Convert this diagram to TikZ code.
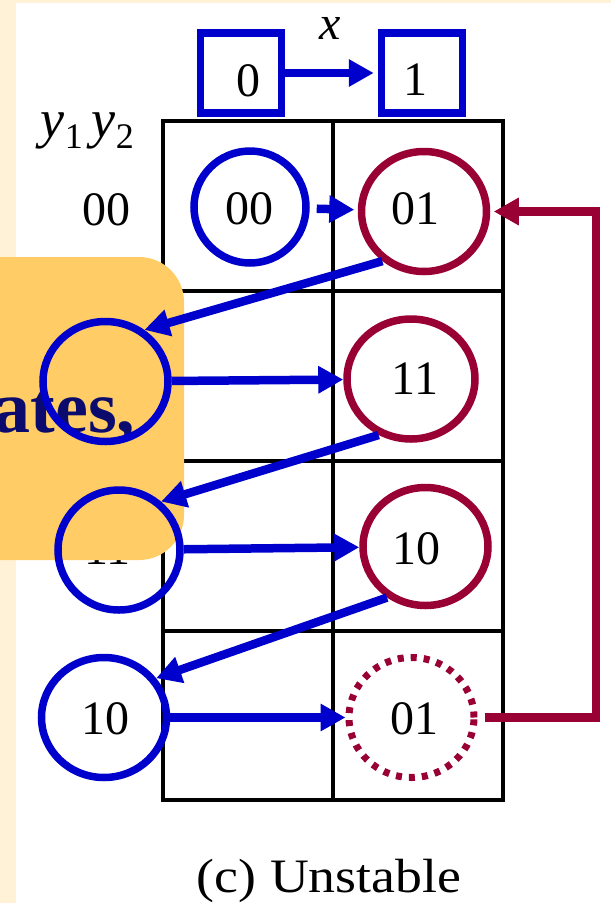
\documentclass[tikz,border=0pt]{standalone}
\usepackage{fontspec}
\setmainfont{Liberation Serif}
\newfontfamily\widefont[FakeStretch=1.12]{Liberation Serif}
\usetikzlibrary{shapes,arrows.meta}

\definecolor{slideblue}{HTML}{0000CC}
\definecolor{slidered}{HTML}{990033}
\definecolor{slidegold}{HTML}{FFCC66}
\definecolor{slidecream}{HTML}{FFF2D6}
\definecolor{slidenavy}{HTML}{0B0B6E}

\newcommand{\sub}[1]{\raisebox{-11pt}{\fontsize{36}{36}\selectfont\upshape #1}}

\tikzset{
  big/.style={font=\fontsize{48}{56}\selectfont},
  redstate/.style={ellipse, draw=slidered, line width=7.5pt, inner sep=0pt,
    minimum width=125pt, minimum height=120pt},
  bluestate/.style={redstate, draw=slideblue},
  colbox/.style={draw=slideblue, line width=7.5pt, inner sep=0pt,
    minimum width=81pt, minimum height=80pt},
  flow/.style={draw=slideblue, line width=8.5pt, -{Triangle[length=25pt,width=26pt]}},
  loopback/.style={flow, draw=slidered},
  grid/.style={line width=4pt},
}

\begin{document}
\begin{tikzpicture}[x=1pt, y=-1pt]
\useasboundingbox (0,0) rectangle (611,903);
\fill[slidecream] (0,0) rectangle (611,903);
\fill[white] (16,3) rectangle (611,903);

\draw[grid] (163,121) rectangle (503,800);
\draw[grid] (333,121) -- (333,800);
\foreach \y in {291,461,631}
  \draw[grid] (163,\y) -- (503,\y);

\node[big] (x) at (330,28) {\itshape x};
\node[font=\fontsize{54}{60}\selectfont, anchor=base east, inner sep=0pt] (y) at (134,137)
  {\itshape y\sub{1}\kern9pt y\sub{2}};
\node[big] (x0) at (248,80.5) {0};
\node[big] (x1) at (415,80) {1};
\node[big, anchor=east] (y00) at (134,209.5) {00};
\node[big, anchor=east] (y11) at (134,549) {11};
\node[big, anchor=east] (y10) at (133,719) {10};
\node[big] (c00) at (249,209) {00};
\node[big] (c01) at (415,209) {01};
\node[big] (c11) at (415,378.5) {11};
\node[big] (c10) at (416,549) {10};
\node[big] (c01b) at (414,718.5) {01};
\node[big, anchor=base] (cap) at (329,892) {\widefont (c) Unstable};

\fill[slidegold, rounded corners=45pt] (-60,257) rectangle (184,560);
\node[anchor=base east, text=slidenavy, font=\fontsize{74}{80}\selectfont\bfseries]
  (note) at (139,432) {ates,};

\node[colbox] (h0) at (241,73) {};
\node[colbox] (h1) at (422,73) {};
\draw[flow, shorten >=4pt] (h0) -- (h1);

\node[bluestate, minimum width=112pt, minimum height=112pt] (b1) at (250,207) {};
\node[bluestate] (b2) at (105.5,381.5) {};
\node[bluestate, minimum width=122pt] (b3) at (119,550) {};
\node[bluestate] (b4) at (104,717.5) {};
\node[redstate] (r1) at (424,211.5) {};
\node[redstate, minimum width=128pt] (r2) at (411,379) {};
\node[redstate, minimum height=118pt] (r3) at (425.5,546.5) {};
\node[redstate, line width=7pt, dash pattern=on 6pt off 7pt] (r4) at (411.5,717.5) {};

\draw[flow, shorten <=7pt, shorten >=3.5pt] (b1) -- (r1);
\draw[flow] (r1.230) -- (b2.53);
\draw[flow] (b2) -- (r2);
\draw[flow] (r2.240) -- (b3.49);
\draw[flow] (b3) -- (r3);
\draw[flow] (r3.233) -- (b4.37);
\draw[flow] (b4) -- (r4);

\coordinate (rail) at (596,0);
\draw[loopback, shorten <=7pt, shorten >=3.5pt] (r4.east) -- (r4.east -| rail) |- (r1.east);
\end{tikzpicture}
\end{document}
